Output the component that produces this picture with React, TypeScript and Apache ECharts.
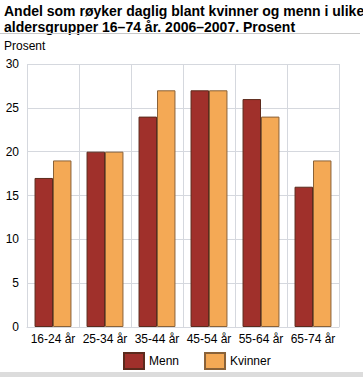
import React, { useEffect, useRef } from "react";
import * as echarts from "echarts";

const categories = ["16-24 år", "25-34 år", "35-44 år", "45-54 år", "55-64 år", "65-74 år"];
const menn = [17, 20, 24, 27, 26, 16];
const kvinner = [19, 20, 27, 27, 24, 19];
const seriesNames = ["Menn", "Kvinner"];
const titleLines = [
  "Andel som røyker daglig blant kvinner og menn i ulike",
  "aldersgrupper 16–74 år. 2006–2007. Prosent",
];
const yAxisName = "Prosent";

const FONT = "'Liberation Sans', Arial, sans-serif";

export default function App() {
  const ref = useRef<HTMLDivElement>(null);
  useEffect(() => {
    document.body.style.margin = "0";
    const chart = echarts.init(ref.current!, null, { renderer: "svg" });
    chart.setOption({
      animation: false,
      textStyle: { fontFamily: FONT },
      graphic: [
        {
          type: "text",
          left: 4,
          top: 3,
          style: {
            text: titleLines.join("\n"),
            font: `bold 14px ${FONT}`,
            lineHeight: 16,
            fill: "#000",
          },
        },
        {
          type: "line",
          shape: { x1: 0, y1: 33.5, x2: 360, y2: 33.5 },
          style: { stroke: "#c8c8c8", lineWidth: 1 },
        },
        {
          type: "text",
          left: 4,
          top: 40,
          style: { text: yAxisName, font: `12px ${FONT}`, fill: "#000" },
        },
        {
          type: "rect",
          shape: { x: 0, y: 372, width: 363, height: 5 },
          style: { fill: "#dcdcdc" },
        },
      ],
      grid: { left: 27, right: 24, top: 64, bottom: 50, containLabel: false },
      legend: {
        left: 118,
        top: 347,
        icon: "rect",
        itemWidth: 20,
        itemHeight: 16,
        itemGap: 25,
        textStyle: { fontSize: 12, color: "#000", fontFamily: FONT },
        data: seriesNames,
      },
      xAxis: {
        type: "category",
        data: categories,
        axisLine: { show: true, lineStyle: { color: "#d5d8de" } },
        axisTick: { show: false },
        axisLabel: { color: "#000", fontSize: 12, margin: 6, interval: 0 },
        splitLine: { show: true, interval: 0, lineStyle: { color: "#d5d8de" } },
      },
      yAxis: {
        type: "value",
        min: 0,
        max: 30,
        interval: 5,
        axisLine: { show: false },
        axisTick: { show: false },
        axisLabel: { color: "#000", fontSize: 12, margin: 8 },
        splitLine: { show: true, lineStyle: { color: "#d5d8de" } },
      },
      series: [
        {
          name: seriesNames[0],
          type: "bar",
          data: menn,
          barGap: "0%",
          barCategoryGap: "29%",
          itemStyle: { color: "#a0302b", borderColor: "#5c2a1c", borderWidth: 1 },
        },
        {
          name: seriesNames[1],
          type: "bar",
          data: kvinner,
          itemStyle: { color: "#f4a955", borderColor: "#8a6238", borderWidth: 1 },
        },
      ],
    });
    return () => chart.dispose();
  }, []);
  return <div ref={ref} style={{ width: 363, height: 377 }} />;
}
